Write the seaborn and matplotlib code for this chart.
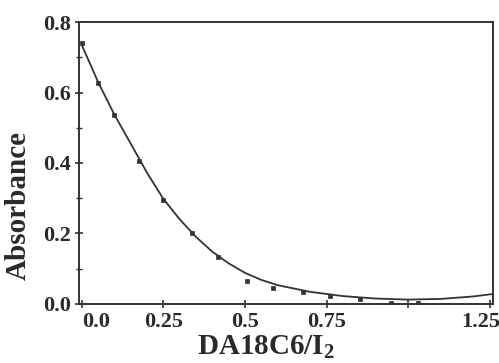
import matplotlib
matplotlib.use("Agg")
import matplotlib.pyplot as plt
import matplotlib.transforms as mtransforms
import seaborn as sns
import pandas as pd
from matplotlib.ticker import MultipleLocator

# measured points
ratio_pts = [0.0, 0.05, 0.10, 0.175, 0.25, 0.337, 0.417, 0.505, 0.586, 0.678, 0.76, 0.853, 0.948, 1.03]
abs_pts = [0.74, 0.627, 0.535, 0.405, 0.296, 0.202, 0.134, 0.066, 0.046, 0.034, 0.023, 0.014, 0.003, 0.003]

# fitted curve
ratio_fit = [0.0, 0.05, 0.10, 0.15, 0.20, 0.25, 0.30, 0.35, 0.40, 0.45, 0.50, 0.55, 0.60,
             0.70, 0.80, 0.90, 1.00, 1.10, 1.20, 1.26]
abs_fit = [0.735, 0.63, 0.537, 0.455, 0.372, 0.298, 0.24, 0.19, 0.148, 0.115, 0.088, 0.068,
           0.053, 0.034, 0.022, 0.015, 0.012, 0.014, 0.021, 0.028]

x_ticks = [0.0, 0.25, 0.5, 0.75, 1.0, 1.25]
x_tick_labels = ["0.0", "0.25", "0.5", "0.75", "", "1.25"]
y_ticks = [0.0, 0.2, 0.4, 0.6, 0.8]
y_tick_labels = ["0.0", "0.2", "0.4", "0.6", "0.8"]

sns.set_theme(style="ticks")
plt.rcParams["font.family"] = ["Liberation Serif", "DejaVu Serif"]
plt.rcParams["mathtext.fontset"] = "custom"
plt.rcParams["mathtext.rm"] = "Liberation Serif"
plt.rcParams["mathtext.bf"] = "Liberation Serif:bold"

fig = plt.figure(figsize=(4.99, 3.63), dpi=100)
ax = fig.add_axes([0.158, 0.163, 0.830, 0.776])

ink = "#333333"
txt = "#2a2a2a"
df_fit = pd.DataFrame({"x": ratio_fit, "y": abs_fit})
df_pts = pd.DataFrame({"x": ratio_pts, "y": abs_pts})
sns.lineplot(data=df_fit, x="x", y="y", ax=ax, color=ink, linewidth=1.3)
sns.scatterplot(data=df_pts, x="x", y="y", ax=ax, color=ink, s=12, edgecolor=ink,
                linewidth=0.5, marker="s", zorder=3)

ax.set_xlim(-0.009, 1.26)
ax.set_ylim(0.0, 0.8)
ax.set_xticks(x_ticks)
ax.set_xticklabels(x_tick_labels, fontsize=16, fontweight="bold", color=txt)
ax.set_yticks(y_ticks)
ax.set_yticklabels(y_tick_labels, fontsize=16, fontweight="bold", color=txt)
ax.yaxis.set_minor_locator(MultipleLocator(0.1))
ax.tick_params(axis="both", which="major", direction="inout", length=6, width=1.2,
               color=ink, pad=3)
ax.tick_params(axis="y", which="minor", direction="inout", length=4, width=1.0, color=ink)

# shift first and last x tick labels like in the reference
xl = ax.get_xticklabels()
xl[0].set_transform(xl[0].get_transform() +
                    mtransforms.ScaledTranslation(14 / 100, 0, fig.dpi_scale_trans))
xl[-1].set_transform(xl[-1].get_transform() +
                     mtransforms.ScaledTranslation(-9 / 100, 0, fig.dpi_scale_trans))

for s in ax.spines.values():
    s.set_visible(True)
    s.set_color(ink)
    s.set_linewidth(1.4)

ax.set_xlabel(r"DA18C6/I$_\mathbf{2}$", fontsize=21, fontweight="bold", color=txt)
ax.set_ylabel("Absorbance", fontsize=21, fontweight="bold", color=txt)
ax.xaxis.set_label_coords(0.452, -0.103)
ax.yaxis.set_label_coords(-0.113, 0.35)

fig.savefig("out.png", dpi=100, facecolor="white")
